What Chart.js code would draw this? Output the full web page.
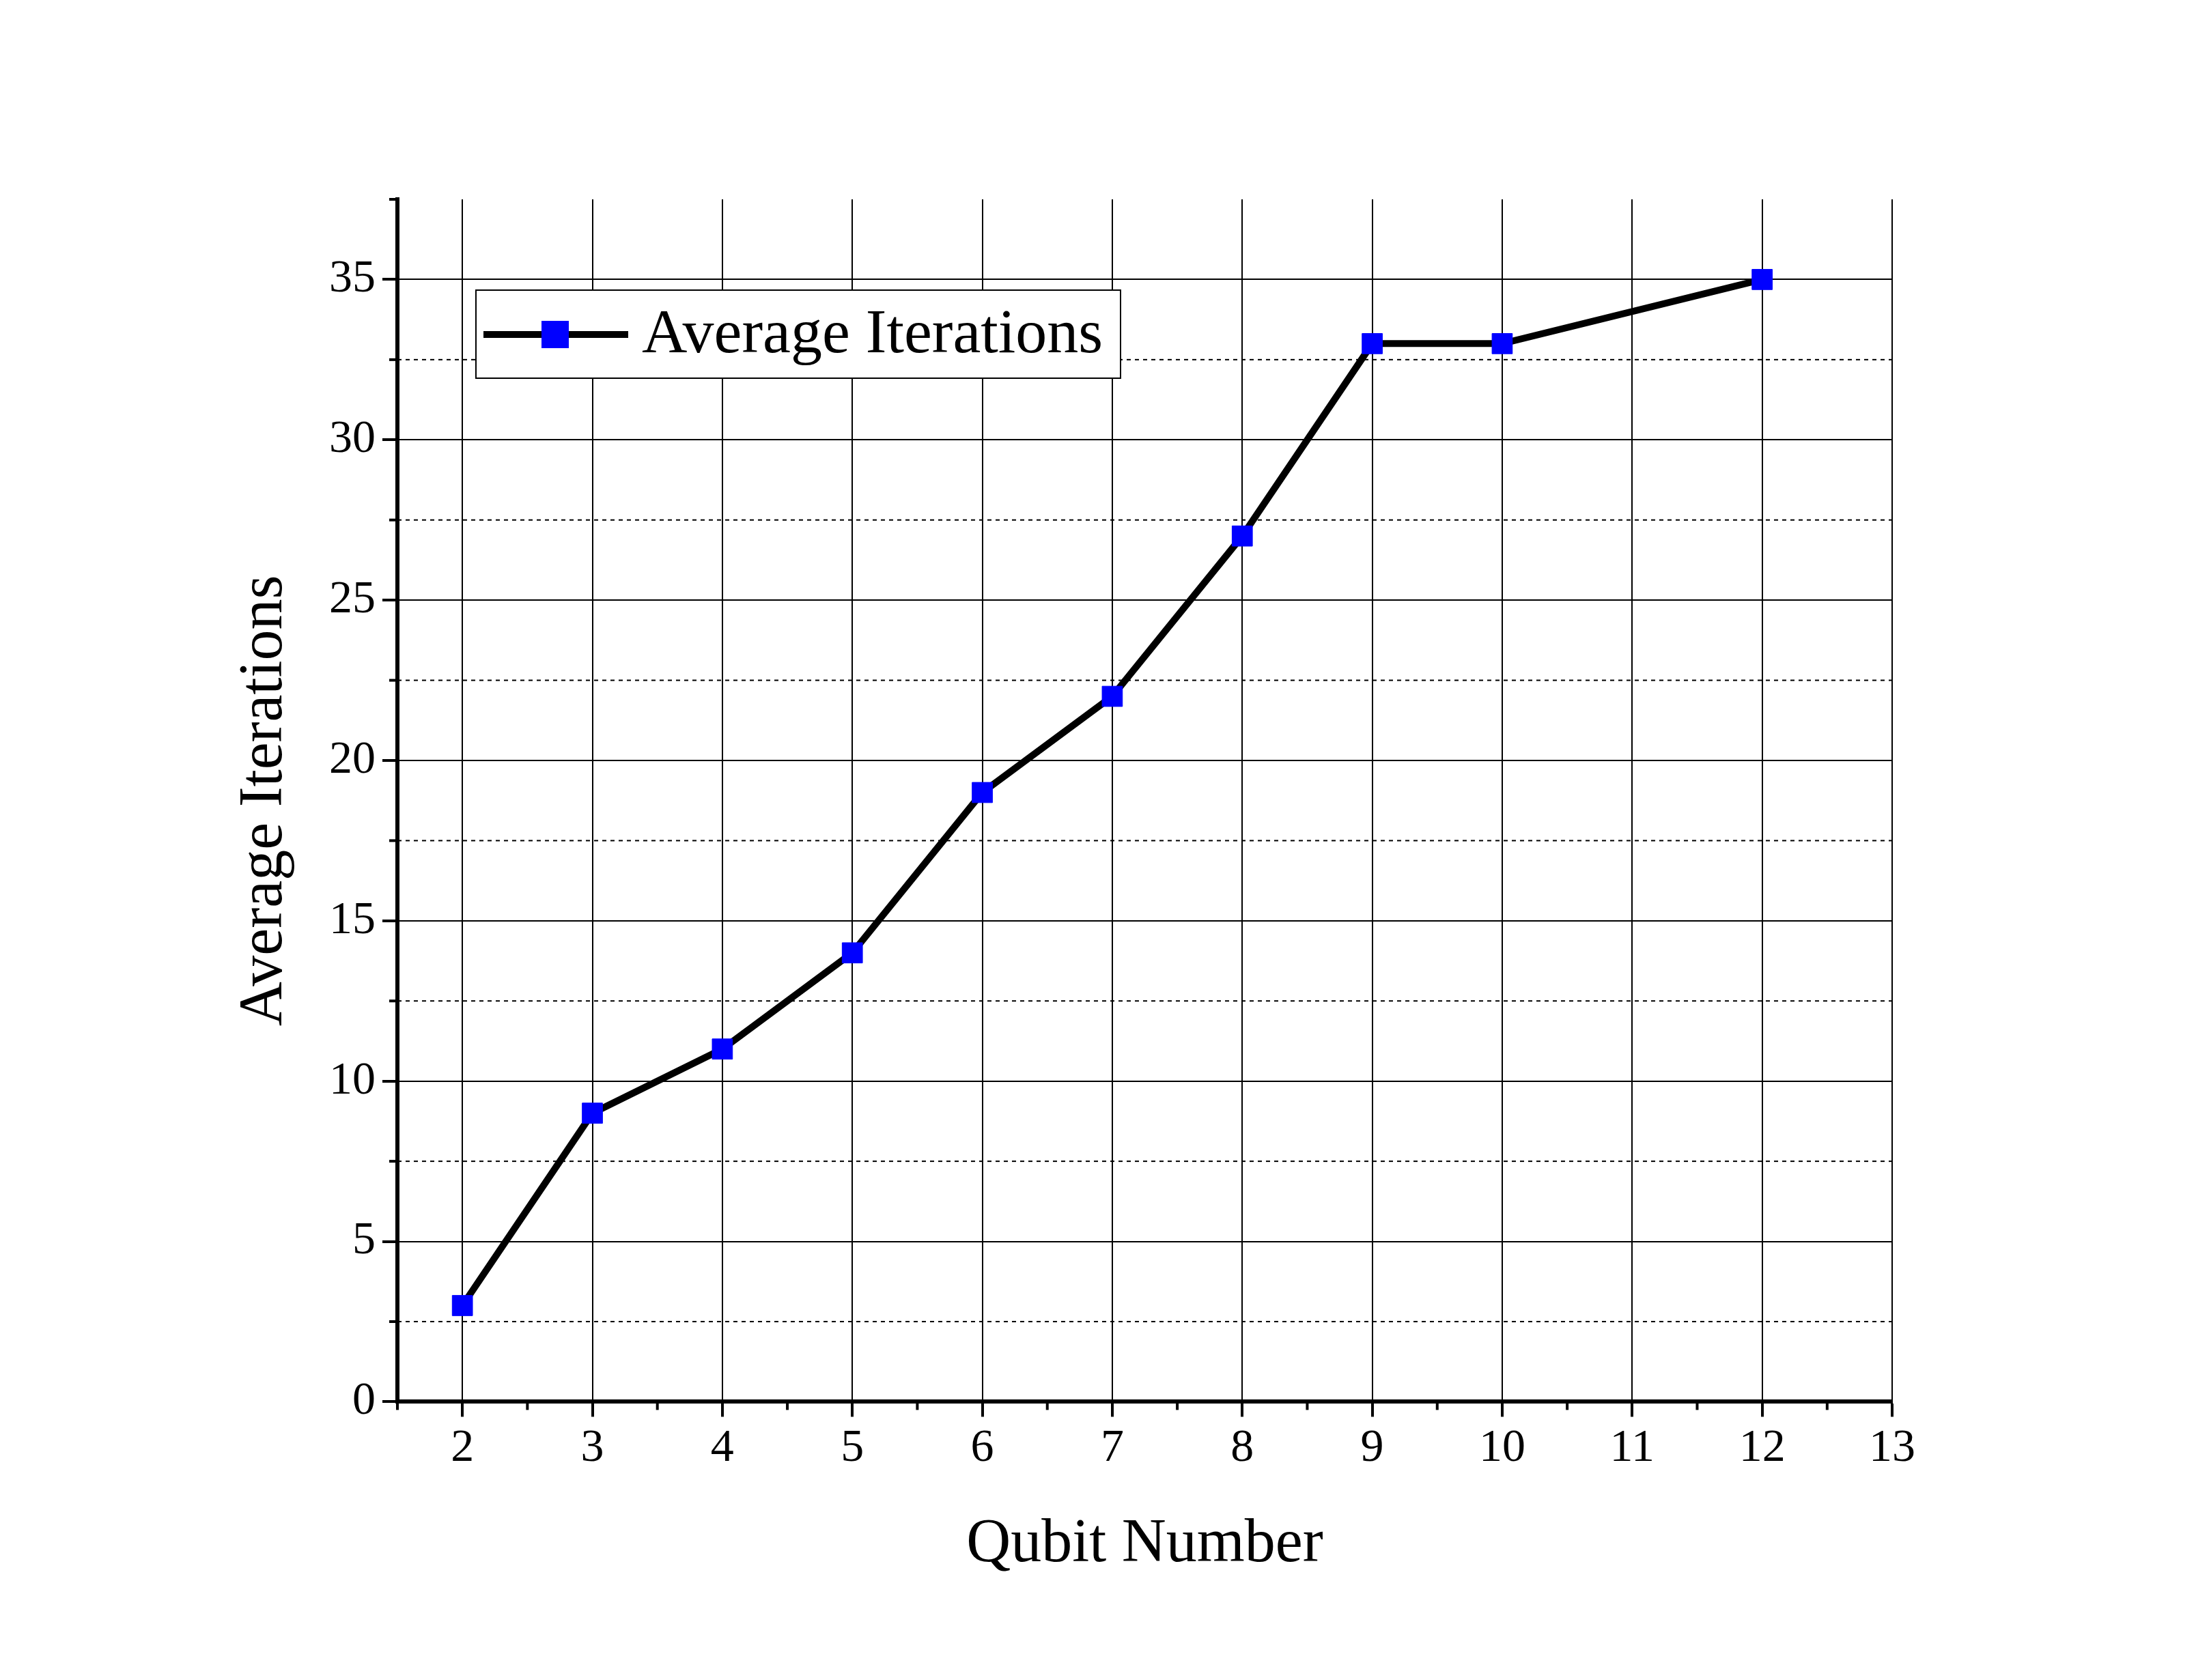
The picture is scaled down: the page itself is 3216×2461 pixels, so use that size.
<!DOCTYPE html>
<html><head><meta charset="utf-8">
<script src="https://cdn.jsdelivr.net/npm/chart.js@4"></script>
<style>html,body{margin:0;background:#fff}#wrap{width:3216px;height:2461px}</style>
</head><body><div id="wrap"><canvas id="c"></canvas></div>
<script>
// data
const qubits = [2, 3, 4, 5, 6, 7, 8, 9, 10, 12];
const iterations = [3, 9, 11, 14, 19, 22, 27, 33, 33, 35];
const xTicks = [2, 3, 4, 5, 6, 7, 8, 9, 10, 11, 12, 13];
const yTicks = [0, 5, 10, 15, 20, 25, 30, 35];
const seriesName = 'Average Iterations';

const FONT = '"Liberation Serif", "Times New Roman", serif';

// minor ticks, dashed half grid, legend box
const extras = {
  id: 'extras',
  beforeDatasetsDraw(chart) {
    const {ctx, chartArea: a, scales: {x, y}} = chart;
    ctx.save();
    ctx.strokeStyle = '#000';
    ctx.lineWidth = 2;
    ctx.setLineDash([6, 6]);
    for (let i = 0; i < yTicks.length - 1; i++) {
      const py = y.getPixelForValue(yTicks[i] + 2.5);
      ctx.beginPath(); ctx.moveTo(a.left, py); ctx.lineTo(a.right, py); ctx.stroke();
    }
    ctx.setLineDash([]);
    ctx.lineWidth = 4;
    for (let i = 0; i < xTicks.length; i++) {
      const px = x.getPixelForValue(xTicks[i] - 0.5);
      ctx.beginPath(); ctx.moveTo(px, a.bottom); ctx.lineTo(px, a.bottom + 12); ctx.stroke();
    }
    for (let i = 0; i < yTicks.length; i++) {
      const py = y.getPixelForValue(yTicks[i] + 2.5);
      if (py < a.top - 1) continue;
      ctx.beginPath(); ctx.moveTo(a.left, py); ctx.lineTo(a.left - 12, py); ctx.stroke();
    }
    ctx.restore();
  },
  afterDraw(chart) {
    const {ctx} = chart;
    ctx.save();
    ctx.fillStyle = '#fff';
    ctx.fillRect(697, 425, 944, 129);
    ctx.strokeStyle = '#000'; ctx.lineWidth = 2;
    ctx.strokeRect(697, 425, 944, 129);
    ctx.lineWidth = 10;
    ctx.beginPath(); ctx.moveTo(708, 490); ctx.lineTo(920, 490); ctx.stroke();
    ctx.fillStyle = '#0000ff';
    ctx.fillRect(793, 470, 40, 40);
    ctx.fillStyle = '#000';
    ctx.font = '92px ' + FONT;
    ctx.textBaseline = 'middle';
    ctx.fillText(seriesName, 940, 492);
    ctx.restore();
  }
};

new Chart(document.getElementById('c'), {
  type: 'line',
  data: {
    datasets: [{
      label: seriesName,
      data: qubits.map((q, i) => ({x: q, y: iterations[i]})),
      borderColor: '#000',
      borderWidth: 10,
      pointStyle: 'rect',
      pointRadius: 21,
      pointBackgroundColor: '#0000ff',
      pointBorderColor: '#0000ff',
      pointBorderWidth: 1,
      tension: 0
    }]
  },
  options: {
    responsive: true,
    maintainAspectRatio: false,
    animation: false,
    layout: {padding: {left: 330, right: 445, top: 292, bottom: 140}},
    plugins: {legend: {display: false}, tooltip: {enabled: false}},
    scales: {
      x: {
        type: 'linear', min: 1.5, max: 13,
        afterBuildTicks: s => { s.ticks = xTicks.map(v => ({value: v})); },
        grid: {color: '#000', lineWidth: 2, tickLength: 22, tickWidth: 4, tickColor: '#000'},
        border: {color: '#000', width: 6},
        ticks: {color: '#000', font: {family: FONT, size: 68}, padding: 6, maxRotation: 0},
        title: {display: true, text: 'Qubit Number', color: '#000', font: {family: FONT, size: 90}, padding: {top: 40}}
      },
      y: {
        min: 0, max: 37.5,
        afterBuildTicks: s => { s.ticks = yTicks.map(v => ({value: v})); },
        grid: {color: '#000', lineWidth: 2, tickLength: 22, tickWidth: 4, tickColor: '#000'},
        border: {color: '#000', width: 6},
        ticks: {color: '#000', font: {family: FONT, size: 68}, padding: 10},
        title: {display: true, text: 'Average Iterations', color: '#000', font: {family: FONT, size: 90}, padding: {bottom: 30}}
      }
    }
  },
  plugins: [extras]
});
</script>
</body></html>
